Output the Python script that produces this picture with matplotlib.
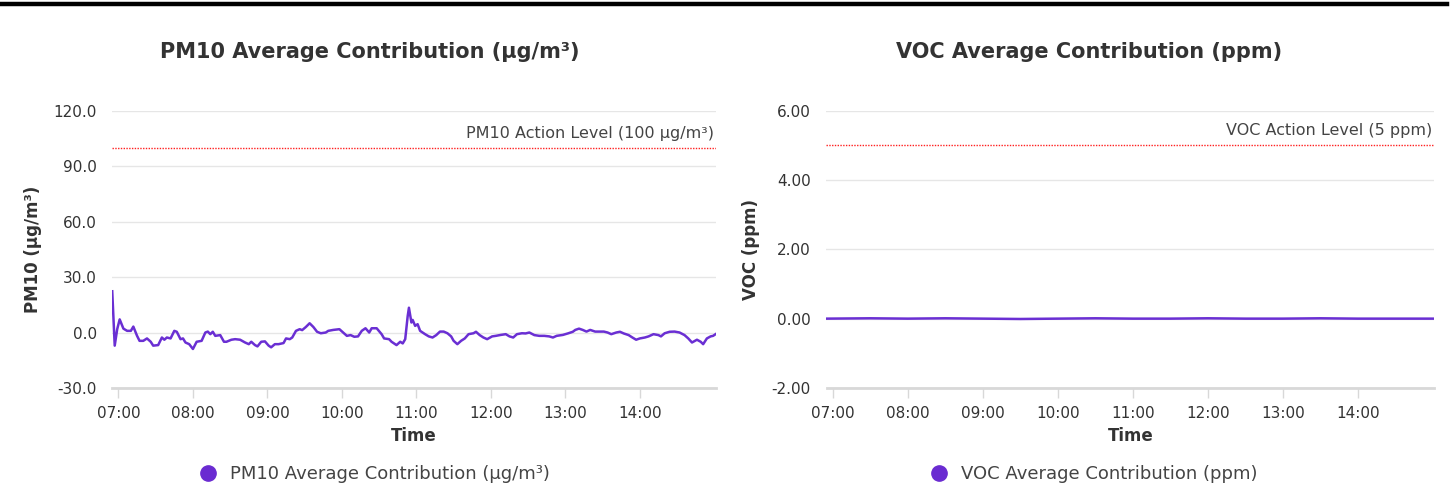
import pandas as pd
import matplotlib
matplotlib.use('Agg')
import matplotlib.pyplot as plt
import matplotlib.dates as mdates
from matplotlib.lines import Line2D
from matplotlib.ticker import FormatStrFormatter

# Datos
pm10_horas = ['06:55', '06:57', '06:59', '07:01', '07:04', '07:07', '07:10', '07:12', '07:15', '07:17',
              '07:20', '07:23', '07:26', '07:28', '07:32', '07:35', '07:37', '07:39', '07:42', '07:45',
              '07:47', '07:50', '07:52', '07:54', '07:57', '08:00', '08:03', '08:07', '08:10', '08:12',
              '08:14', '08:16', '08:18', '08:22', '08:25', '08:27', '08:31', '08:34', '08:38', '08:42',
              '08:45', '08:47', '08:50', '08:52', '08:55', '08:58', '09:01', '09:03', '09:06', '09:09',
              '09:13', '09:15', '09:18', '09:20', '09:23', '09:26', '09:28', '09:31', '09:34', '09:37',
              '09:40', '09:43', '09:47', '09:49', '09:53', '09:58', '10:01', '10:04', '10:07', '10:10',
              '10:13', '10:16', '10:19', '10:22', '10:24', '10:28', '10:32', '10:34', '10:38', '10:40',
              '10:44', '10:47', '10:49', '10:51', '10:53', '10:54', '10:56', '10:57', '10:59', '11:01',
              '11:03', '11:05', '11:07', '11:10', '11:13', '11:16', '11:19', '11:22', '11:25', '11:28',
              '11:30', '11:33', '11:36', '11:39', '11:42', '11:46', '11:48', '11:51', '11:54', '11:57',
              '12:01', '12:04', '12:08', '12:12', '12:15', '12:18', '12:21', '12:25', '12:28', '12:31',
              '12:35', '12:39', '12:43', '12:47', '12:50', '12:53', '12:58', '13:02', '13:06', '13:08',
              '13:11', '13:14', '13:17', '13:20', '13:24', '13:27', '13:31', '13:34', '13:37', '13:41',
              '13:44', '13:47', '13:51', '13:54', '13:57', '14:00', '14:04', '14:07', '14:11', '14:15',
              '14:17', '14:20', '14:24', '14:28', '14:32', '14:36', '14:39', '14:42', '14:46', '14:49',
              '14:51', '14:54', '14:57', '14:59', '15:01']
pm10_valores = [22.3, -7.1, 1.8, 7.1, 2.1, 0.9, 0.9, 3.2, -1.8, -4.5,
                -4.5, -3.2, -5.0, -7.1, -6.8, -2.7, -3.9, -2.7, -3.2, 0.9,
                0.4, -3.6, -3.2, -5.4, -6.3, -8.9, -5.0, -4.5, 0.0, 0.5,
                -0.9, 0.4, -1.8, -1.4, -5.0, -5.0, -3.9, -3.6, -3.9, -5.4,
                -6.3, -5.0, -6.8, -7.5, -5.0, -4.8, -7.1, -8.0, -6.3, -6.3,
                -5.7, -3.2, -3.6, -2.7, 0.9, 1.8, 1.3, 3.0, 5.0, 3.0,
                0.4, -0.4, 0.0, 0.9, 1.4, 1.8, 0.0, -1.8, -1.4, -2.3,
                -2.1, 0.9, 2.3, 0.0, 2.3, 2.3, -0.9, -3.2, -3.6, -5.0,
                -6.8, -5.0, -5.9, -3.6, 8.9, 13.4, 5.4, 6.8, 3.6, 4.5,
                0.9, 0.0, -0.9, -2.1, -2.7, -1.4, 0.5, 0.5, -0.4, -2.1,
                -4.5, -6.3, -4.5, -3.2, -0.9, -0.4, 0.4, -1.4, -2.7, -3.6,
                -2.1, -1.8, -1.3, -0.9, -2.1, -2.7, -0.9, -0.4, -0.5, 0.0,
                -1.4, -1.8, -1.8, -2.1, -2.7, -1.8, -1.3, -0.5, 0.4, 1.4,
                2.1, 1.4, 0.5, 1.4, 0.5, 0.5, 0.5, 0.0, -0.9, 0.0,
                0.4, -0.5, -1.4, -2.7, -3.9, -3.2, -2.7, -2.1, -0.9, -1.4,
                -2.1, -0.4, 0.4, 0.5, 0.0, -1.4, -3.2, -5.4, -3.9, -5.0,
                -6.3, -3.2, -2.1, -1.8, -0.9]

voc_horas = ['06:55', '07:30', '08:00', '08:30', '09:00', '09:30', '10:00', '10:30', '11:00',
             '11:30', '12:00', '12:30', '13:00', '13:30', '14:00', '14:30', '15:01']
voc_valores = [0.00, 0.01, 0.00, 0.01, 0.00, -0.01, 0.00, 0.01, 0.00,
               0.00, 0.01, 0.00, 0.00, 0.01, 0.00, 0.00, 0.00]

horas_ticks = ['07:00', '08:00', '09:00', '10:00', '11:00', '12:00', '13:00', '14:00']
pm10_ticks = [-30, 0, 30, 60, 90, 120]
voc_ticks = [-2, 0, 2, 4, 6]
pm10_limite = 100
voc_limite = 5

color_linea = '#6a2fd3'
color_texto = '#333333'
color_grilla = '#e6e6e6'

pm10_t = pd.to_datetime(['2024-01-01 ' + h for h in pm10_horas])
voc_t = pd.to_datetime(['2024-01-01 ' + h for h in voc_horas])
ticks_t = pd.to_datetime(['2024-01-01 ' + h for h in horas_ticks])

plt.rcParams['font.family'] = 'DejaVu Sans'

fig = plt.figure(figsize=(14.5, 5.03), dpi=100)

# Línea negra superior
fig.add_artist(Line2D([0.0014, 0.998], [0.992, 0.992], color='black', lw=3.2))

paneles = [
    dict(rect=[0.0774, 0.2286, 0.4161, 0.5517], t=pm10_t, v=pm10_valores, ticks=pm10_ticks,
         fmt='%.1f', lim=pm10_limite, lim_txt='PM10 Action Level (100 µg/m³)', pad=11,
         ylabel='PM10 (µg/m³)', titulo='PM10 Average Contribution (µg/m³)', cx=0.255,
         leyenda='PM10 Average Contribution (µg/m³)'),
    dict(rect=[0.570, 0.2286, 0.419, 0.5517], t=voc_t, v=voc_valores, ticks=voc_ticks,
         fmt='%.2f', lim=voc_limite, lim_txt='VOC Action Level (5 ppm)', pad=11.5,
         ylabel='VOC (ppm)', titulo='VOC Average Contribution (ppm)', cx=0.751,
         leyenda='VOC Average Contribution (ppm)'),
]

for p in paneles:
    ax = fig.add_axes(p['rect'])
    ax.plot(p['t'], p['v'], color=color_linea, lw=1.8)
    ax.axhline(p['lim'], color='#ff2020', lw=1.0, ls=(0, (1, 1)))
    ax.annotate(p['lim_txt'], xy=(1, p['lim']), xycoords=('axes fraction', 'data'),
                xytext=(-1, 5), textcoords='offset points', ha='right', va='bottom',
                fontsize=11.5, color='#444444')

    ax.set_xlim(pm10_t[0], pm10_t[-1])
    ax.set_ylim(p['ticks'][0], p['ticks'][-1])
    ax.set_yticks(p['ticks'])
    ax.yaxis.set_major_formatter(FormatStrFormatter(p['fmt']))
    ax.set_xticks(ticks_t)
    ax.xaxis.set_major_formatter(mdates.DateFormatter('%H:%M'))

    ax.grid(axis='y', color=color_grilla, lw=1)
    ax.set_axisbelow(True)
    for lado in ['top', 'right', 'left']:
        ax.spines[lado].set_visible(False)
    ax.spines['bottom'].set_color('#d8d8d8')
    ax.spines['bottom'].set_linewidth(2)
    ax.tick_params(axis='y', length=0, pad=p['pad'], labelsize=11, labelcolor=color_texto)
    ax.tick_params(axis='x', length=7, width=1, color='#d8d8d8', pad=6,
                   labelsize=11, labelcolor=color_texto)

    ax.set_xlabel('Time', fontsize=12, fontweight='bold', color=color_texto, labelpad=4)
    ax.set_ylabel(p['ylabel'], fontsize=12, fontweight='bold', color=color_texto, labelpad=8)

    fig.text(p['cx'], 0.897, p['titulo'], ha='center', va='center',
             fontsize=15, fontweight='bold', color=color_texto)

    marca = Line2D([], [], marker='o', ls='none', color='#6a2bd1', markersize=11)
    fig.legend([marca], [p['leyenda']], loc='center', bbox_to_anchor=(p['cx'], 0.057),
               frameon=False, fontsize=13, handletextpad=0.2, labelcolor='#444444')

fig.savefig('out.png', dpi=100)
